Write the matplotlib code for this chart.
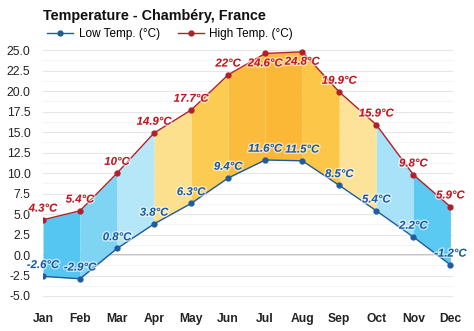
import matplotlib
matplotlib.use("Agg")
import matplotlib.pyplot as plt
import matplotlib.patheffects as pe
import numpy as np

plt.rcParams['font.family'] = ['Liberation Sans', 'DejaVu Sans']

months = ["Jan", "Feb", "Mar", "Apr", "May", "Jun", "Jul", "Aug", "Sep", "Oct", "Nov", "Dec"]
high = [4.3, 5.4, 10, 14.9, 17.7, 22, 24.6, 24.8, 19.9, 15.9, 9.8, 5.9]
low = [-2.6, -2.9, 0.8, 3.8, 6.3, 9.4, 11.6, 11.5, 8.5, 5.4, 2.2, -1.2]
high_labels = ["4.3°C", "5.4°C", "10°C", "14.9°C", "17.7°C", "22°C", "24.6°C", "24.8°C", "19.9°C", "15.9°C", "9.8°C", "5.9°C"]
low_labels = ["-2.6°C", "-2.9°C", "0.8°C", "3.8°C", "6.3°C", "9.4°C", "11.6°C", "11.5°C", "8.5°C", "5.4°C", "2.2°C", "-1.2°C"]
seg_colors = ["#55c6f1", "#7fd4f4", "#b5e7f9", "#fde08d", "#fccb52", "#fbbb3d", "#fbb837",
              "#fcc748", "#fde39a", "#a8e2f8", "#5acaf2"]
yticks = [-5.0, -2.5, 0.0, 2.5, 5.0, 7.5, 10.0, 12.5, 15.0, 17.5, 20.0, 22.5, 25.0]

fig = plt.figure(figsize=(4.74, 3.31), dpi=100)
ax = fig.add_axes([43/474, 1 - 305/331, (453-43)/474, (305-42)/331])

x = np.arange(len(months))
for i in range(len(months) - 1):
    ax.fill_between(x[i:i+2], low[i:i+2], high[i:i+2], color=seg_colors[i], lw=0, zorder=2)

ax.plot(x, low, color="#1f5c9e", lw=1.0, marker="o", ms=3.5, zorder=4, label="Low Temp. (°C)")
ax.plot(x, high, color="#b0202a", lw=1.0, marker="o", ms=3.5, zorder=4, label="High Temp. (°C)")

ymax = 26.0
for i in range(len(months)):
    below = high[i] > 24
    t = ax.annotate(high_labels[i], (x[i], high[i]), xytext=(0, -3.5 if below else 4.5),
                    textcoords="offset points", ha="center", va="top" if below else "bottom",
                    fontsize=8.2, fontweight="bold", fontstyle="italic", color="#c0161f", zorder=6)
    t.set_path_effects([pe.withStroke(linewidth=2, foreground="white", alpha=0.6)])
    t = ax.annotate(low_labels[i], (x[i], low[i]), xytext=(0, 4.5), textcoords="offset points",
                    ha="center", va="bottom", fontsize=8.2, fontweight="bold", fontstyle="italic",
                    color="#1b5aa3", zorder=6)
    t.set_path_effects([pe.withStroke(linewidth=2, foreground="white", alpha=0.6)])

ax.set_xlim(0, 11.07)
ax.set_ylim(-6.1, ymax)
ax.set_yticks(yticks)
ax.set_yticklabels([f"{v:.1f}" for v in yticks])
ax.set_yticks(np.arange(-5, 25.1, 1.25), minor=True)
ax.set_xticks(x)
ax.set_xticklabels(months, fontweight="bold")
ax.tick_params(axis="both", which="both", length=0, labelsize=8.7, colors="#222222")
ax.tick_params(axis="y", pad=9)
ax.tick_params(axis="x", pad=6)
ax.grid(axis="y", which="major", color="#e6e6e6", lw=0.8, zorder=0)
ax.grid(axis="y", which="minor", color="#f2f2f2", lw=0.6, zorder=0)
ax.axhline(0, color="#b5b5b5", lw=1.2, zorder=1)
for s in ax.spines.values():
    s.set_visible(False)

fig.text(43/474, 1 - 16/331, "Temperature - Chambéry, France", fontsize=10.4, fontweight="bold",
         ha="left", va="center", color="#111111")
ax.legend(loc="center left", bbox_to_anchor=(-0.005, 1 + 8/263), ncol=2, frameon=False, fontsize=8.5,
          handlelength=2.2, columnspacing=1.5, borderpad=0.0, handletextpad=0.5)

fig.savefig("out.png", dpi=100, facecolor="white")
